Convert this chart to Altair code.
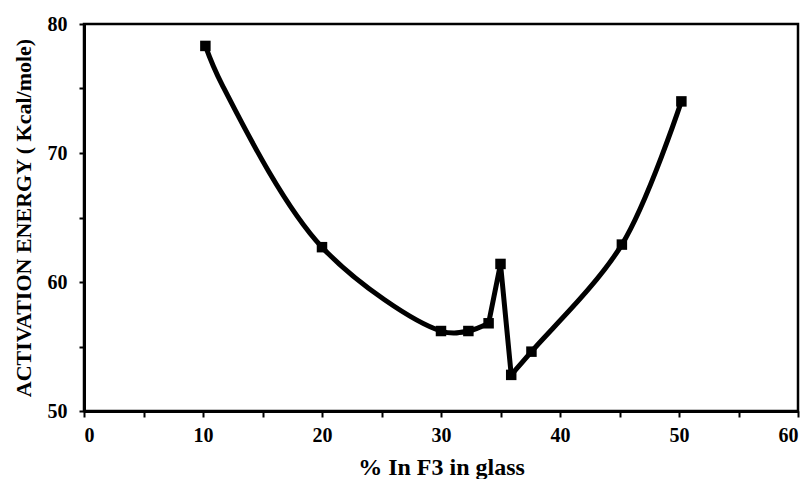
import altair as alt
import pandas as pd

# Data
x_vals = [10.2, 11.6, 20.0, 30.0, 32.3, 34.0, 35.0, 35.9, 37.6, 45.2, 50.2]
y_vals = [78.3, 75.3, 62.7, 56.2, 56.2, 56.8, 61.4, 52.8, 54.6, 62.9, 74.0]
marker = [1, 0, 1, 1, 1, 1, 1, 1, 1, 1, 1]

df = pd.DataFrame({"x": x_vals, "y": y_vals, "m": marker})

x_ticks = list(range(0, 61, 5))
y_ticks = list(range(50, 81, 5))

font = "Liberation Serif"

xenc = alt.X("x:Q", scale=alt.Scale(domain=[0, 60], nice=False, zero=False),
             axis=alt.Axis(values=x_ticks, title="% In F3 in glass",
                           labelExpr="datum.value % 10 == 0 ? datum.label : ''",
                           grid=False, domainColor="black", domainWidth=3,
                           tickColor="black", tickWidth=2, tickSize=6,
                           labelPadding=8, labelFont=font, labelFontSize=20,
                           labelFontWeight="bold", labelColor="black",
                           titleFont=font, titleFontSize=24, titleFontWeight="bold",
                           titleColor="black", titlePadding=10))
yenc = alt.Y("y:Q", scale=alt.Scale(domain=[50, 80], nice=False, zero=False),
             axis=alt.Axis(values=y_ticks, title="ACTIVATION ENERGY ( Kcal/mole)",
                           labelExpr="datum.value % 10 == 0 ? datum.label : ''",
                           grid=False, domainColor="black", domainWidth=3,
                           tickColor="black", tickWidth=2, tickSize=5,
                           labelPadding=12, labelFont=font, labelFontSize=20,
                           labelFontWeight="bold", labelColor="black",
                           titleFont=font, titleFontSize=22, titleFontWeight="bold",
                           titleColor="black", titlePadding=12))

base = alt.Chart(df)

left = base.transform_filter("datum.x <= 34").mark_line(
    color="black", strokeWidth=5, interpolate="catmull-rom").encode(x=xenc, y=yenc)
peak = base.transform_filter("datum.x >= 34 && datum.x <= 36").mark_line(
    color="black", strokeWidth=5, strokeJoin="round").encode(x="x:Q", y="y:Q")
right = base.transform_filter("datum.x >= 35.5").mark_line(
    color="black", strokeWidth=5, interpolate="catmull-rom").encode(x="x:Q", y="y:Q")

pts = base.transform_filter("datum.m == 1").mark_square(
    color="black", size=110, opacity=1).encode(x="x:Q", y="y:Q")

chart = (left + peak + right + pts).properties(
    width=714, height=387,
    autosize=alt.AutoSizeParams(type="none"),
    padding={"left": 76, "top": 16, "right": 2, "bottom": 68},
).configure_view(stroke="black", strokeWidth=2.5)

chart.save("out.html", embed_options={"renderer": "svg", "actions": False})
